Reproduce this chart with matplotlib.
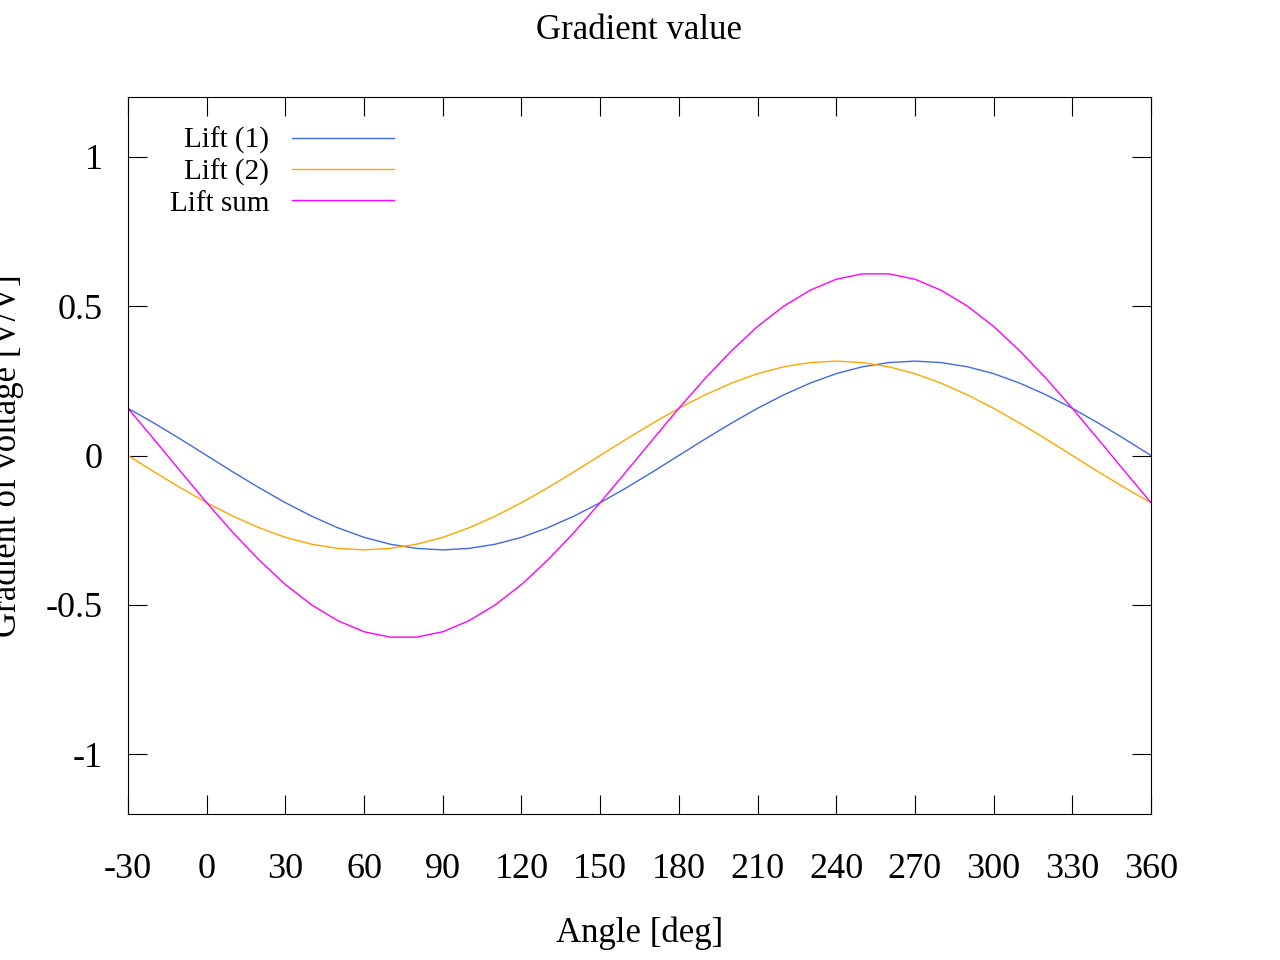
import matplotlib
matplotlib.use("Agg")
import matplotlib.pyplot as plt

angles = list(range(-30, 361, 10))
lift1 = [0.158, 0.108, 0.055, 0.0, -0.055, -0.108, -0.158, -0.203, -0.242, -0.274,
         -0.297, -0.311, -0.316, -0.311, -0.297, -0.274, -0.242, -0.203, -0.158, -0.108,
         -0.055, 0.0, 0.055, 0.108, 0.158, 0.203, 0.242, 0.274, 0.297, 0.311,
         0.316, 0.311, 0.297, 0.274, 0.242, 0.203, 0.158, 0.108, 0.055, 0.0]
lift2 = [0.0, -0.055, -0.108, -0.158, -0.203, -0.242, -0.274, -0.297, -0.311, -0.316,
         -0.311, -0.297, -0.274, -0.242, -0.203, -0.158, -0.108, -0.055, 0.0, 0.055,
         0.108, 0.158, 0.203, 0.242, 0.274, 0.297, 0.311, 0.316, 0.311, 0.297,
         0.274, 0.242, 0.203, 0.158, 0.108, 0.055, 0.0, -0.055, -0.108, -0.158]
lift_sum = [a + b for a, b in zip(lift1, lift2)]
xticks = list(range(-30, 361, 30))
yticks = [-1, -0.5, 0, 0.5, 1]
ytick_labels = ["-1", "-0.5", "0", "0.5", "1"]

plt.rcParams['font.family'] = ['Liberation Serif', 'DejaVu Serif']
plt.rcParams['axes.unicode_minus'] = False
fig = plt.figure(figsize=(12.8, 9.6), dpi=100)
ax = fig.add_axes([128/1280, 1-814/960, (1151-128)/1280, (814-97)/960])
ax.plot(angles, lift1, color='#4169e1', lw=1, label='Lift (1)')
ax.plot(angles, lift2, color='#ffa500', lw=1, label='Lift (2)')
ax.plot(angles, lift_sum, color='#ff00ff', lw=1, label='Lift sum')
ax.set_xlim(-30, 360)
ax.set_ylim(-1.2, 1.2)
ax.set_xticks(xticks)
ax.set_xticklabels([str(v) for v in xticks])
ax.set_yticks(yticks)
ax.set_yticklabels(ytick_labels)
ax.tick_params(direction='in', top=True, right=True, labelsize=26, length=14)
ax.tick_params(axis='x', pad=28)
ax.tick_params(axis='y', pad=18)
ax.set_title('Gradient value', fontsize=25, pad=42)
ax.set_xlabel('Angle [deg]', fontsize=25, labelpad=22)
ax.set_ylabel('Gradient of voltage [V/V]', fontsize=25, labelpad=16)
ax.legend(loc='upper left', frameon=False, markerfirst=False, fontsize=21,
          handlelength=3.5, handletextpad=0.8, labelspacing=0.15,
          bbox_to_anchor=(0.015, 0.995))
fig.savefig('out.png', dpi=100)
